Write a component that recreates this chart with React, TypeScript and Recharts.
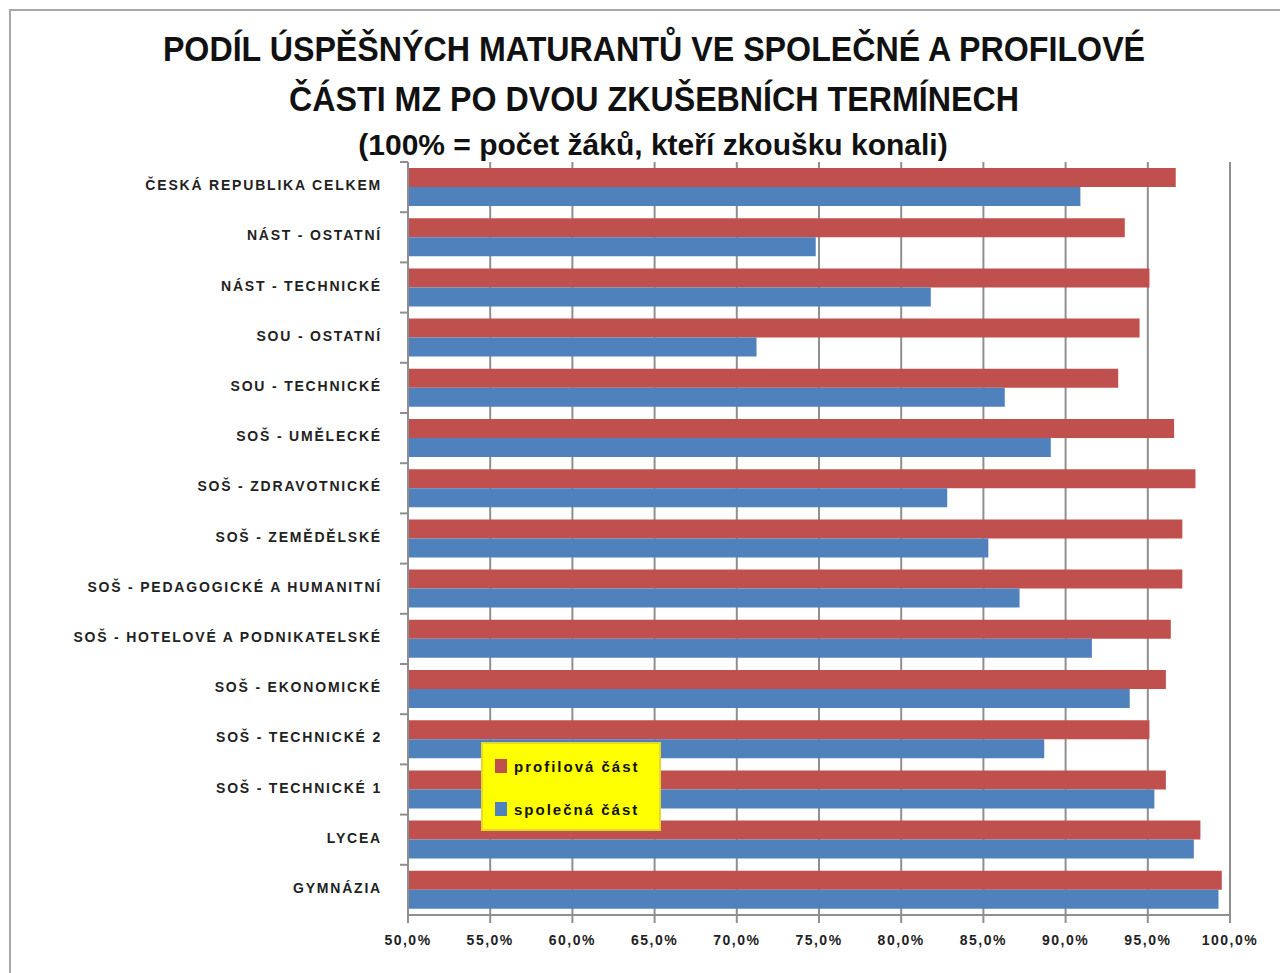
import React from 'react';
import { BarChart, Bar, XAxis, YAxis, CartesianGrid } from 'recharts';

const categories = [
  'ČESKÁ REPUBLIKA CELKEM',
  'NÁST - OSTATNÍ',
  'NÁST - TECHNICKÉ',
  'SOU - OSTATNÍ',
  'SOU - TECHNICKÉ',
  'SOŠ - UMĚLECKÉ',
  'SOŠ - ZDRAVOTNICKÉ',
  'SOŠ - ZEMĚDĚLSKÉ',
  'SOŠ - PEDAGOGICKÉ A HUMANITNÍ',
  'SOŠ - HOTELOVÉ A PODNIKATELSKÉ',
  'SOŠ - EKONOMICKÉ',
  'SOŠ - TECHNICKÉ 2',
  'SOŠ - TECHNICKÉ 1',
  'LYCEA',
  'GYMNÁZIA',
];

const profilova = [96.7, 93.6, 95.1, 94.5, 93.2, 96.6, 97.9, 97.1, 97.1, 96.4, 96.1, 95.1, 96.1, 98.2, 99.5];
const spolecna = [90.9, 74.8, 81.8, 71.2, 86.3, 89.1, 82.8, 85.3, 87.2, 91.6, 93.9, 88.7, 95.4, 97.8, 99.3];

const xTicks = [50, 55, 60, 65, 70, 75, 80, 85, 90, 95, 100];

const seriesNames = { profil: 'profilová část', spol: 'společná část' };

const data = categories.map((name, i) => ({ name, profil: profilova[i], spol: spolecna[i] }));

const RED = '#C0504D';
const BLUE = '#4F81BD';
const GRID = '#8f8f8f';
const FONT = '"Liberation Sans", Arial, sans-serif';

const CategoryTick = (props: any) => {
  const { x, y, payload } = props;
  const off = payload && payload.offset ? payload.offset : 25;
  return (
    <g>
      <text x={x} y={y} dy={3} textAnchor="end" fontFamily={FONT} fontSize={14} fontWeight={700} letterSpacing={1.8} fill="#222">
        {payload.value}
      </text>
      <line x1={x + 18} x2={x + 26} y1={y - off} y2={y - off} stroke={GRID} strokeWidth={2} />
    </g>
  );
};

const LegendBox = () => (
  <div
    style={{
      position: 'absolute',
      left: 481,
      top: 742,
      background: '#FFFF00',
      border: '2px solid #e6d830',
      width: 180,
      height: 89,
      boxSizing: 'border-box',
      padding: '11px 0 0 12px',
      fontFamily: FONT,
      fontSize: 15,
      fontWeight: 700,
      letterSpacing: 2,
      color: '#111',
    }}
  >
    <div style={{ display: 'flex', alignItems: 'center', height: 22 }}>
      <span style={{ width: 12, height: 14, background: RED, display: 'inline-block', marginRight: 7 }} />
      {seriesNames.profil}
    </div>
    <div style={{ display: 'flex', alignItems: 'center', height: 22, marginTop: 21 }}>
      <span style={{ width: 12, height: 14, background: BLUE, display: 'inline-block', marginRight: 7 }} />
      {seriesNames.spol}
    </div>
  </div>
);

export default function App() {
  return (
    <div style={{ position: 'absolute', left: 0, top: 0, width: 1280, height: 973, background: '#fff', overflow: 'hidden' }}>
      <div style={{ position: 'absolute', left: 9, top: 9, width: 1300, height: 1000, borderLeft: '2px solid #a8a8a8', borderTop: '2px solid #a8a8a8' }} />
      <div style={{ position: 'absolute', left: 0, width: 1308, top: 24, textAlign: 'center', fontFamily: FONT, fontWeight: 700, fontSize: 35, lineHeight: '50px', color: '#111', transform: 'scaleX(0.92)', transformOrigin: '654px 0' }}>
        <div>PODÍL ÚSPĚŠNÝCH MATURANTŮ VE SPOLEČNÉ A PROFILOVÉ</div>
        <div>ČÁSTI MZ PO DVOU ZKUŠEBNÍCH TERMÍNECH</div>
      </div>
      <div style={{ position: 'absolute', left: 0, width: 1306, top: 127, textAlign: 'center', fontFamily: FONT, fontWeight: 700, fontSize: 30, lineHeight: '36px', color: '#111' }}>
        (100% = počet žáků, kteří zkoušku konali)
      </div>
      <div style={{ position: 'absolute', left: 0, top: 0 }}>
        <BarChart
          width={1280}
          height={973}
          data={data}
          layout="vertical"
          margin={{ top: 162, right: 50, bottom: 28, left: 10 }}
          barCategoryGap="12%"
          barGap={0}
        >
          <CartesianGrid horizontal={false} vertical stroke={GRID} strokeWidth={2} />
          <XAxis
            type="number"
            domain={[50, 100]}
            ticks={xTicks}
            allowDataOverflow
            height={30}
            tickFormatter={(v: number) => v.toFixed(1).replace('.', ',') + '%'}
            axisLine={{ stroke: GRID, strokeWidth: 2 }}
            tickLine={{ stroke: GRID, strokeWidth: 2 }}
            tickSize={8}
            tickMargin={12}
            tick={{ fontFamily: FONT, fontSize: 14, fontWeight: 700, fill: '#222', letterSpacing: 1.5 }}
            interval={0}
          />
          <YAxis
            type="category"
            dataKey="name"
            width={398}
            axisLine={{ stroke: GRID, strokeWidth: 2 }}
            tickLine={false}
            tickSize={0}
            tickMargin={26}
            tick={<CategoryTick />}
            interval={0}
          />
          <Bar dataKey="profil" name={seriesNames.profil} fill={RED} isAnimationActive={false} />
          <Bar dataKey="spol" name={seriesNames.spol} fill={BLUE} isAnimationActive={false} />
        </BarChart>
      </div>
      <LegendBox />
    </div>
  );
}
